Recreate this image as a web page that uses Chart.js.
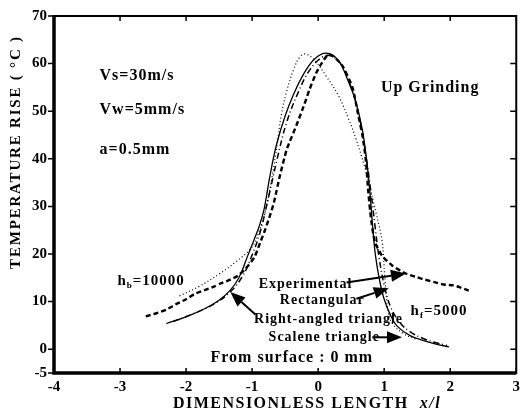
<!DOCTYPE html>
<html>
<head>
<meta charset="utf-8">
<script src="https://cdn.jsdelivr.net/npm/chart.js@4.4.1/dist/chart.umd.min.js"></script>
<style>
  html, body { margin: 0; padding: 0; background: #fff; }
</style>
</head>
<body>
<canvas id="chart" width="525" height="417"></canvas>
<script>
// axis ticks
const xTicks = [-4, -3, -2, -1, 0, 1, 2, 3];
const yTicks = [-5, 0, 10, 20, 30, 40, 50, 60, 70];

// Experimental (measured, bold dashed / dotted)
const expX = [-2.61, -2.46, -2.3, -2.16, -2.0, -1.87, -1.7, -1.57, -1.48, -1.35, -1.22, -1.12, -0.97, -0.88, -0.8, -0.72, -0.67, -0.58, -0.48, -0.43, -0.33, -0.22, -0.13, -0.03, 0.05, 0.16, 0.27, 0.37, 0.52, 0.61, 0.67, 0.72, 0.76, 0.8, 0.86, 0.97, 1.12, 1.31, 1.5, 1.62, 1.76, 1.9, 2.05, 2.15, 2.28];
const expY = [6.9, 7.5, 8.3, 9.4, 10.5, 11.6, 12.5, 13.2, 13.8, 14.5, 15.4, 16.6, 19.2, 22.3, 25.2, 28.5, 30.8, 36.4, 41.8, 43.6, 47, 51, 54.6, 58, 60, 62, 61, 59.5, 55, 49, 45, 40, 33, 27.5, 22.5, 19.6, 17.6, 16.0, 15.1, 14.6, 14.1, 13.6, 13.4, 13.0, 12.3];

// Rectangular heat source (solid)
const rectX = [-2.3, -2.0, -1.72, -1.5, -1.33, -1.2, -1.07, -0.97, -0.9, -0.82, -0.73, -0.63, -0.5, -0.37, -0.22, -0.05, 0.12, 0.3, 0.45, 0.57, 0.67, 0.74, 0.79, 0.83, 0.87, 0.93, 1.0, 1.1, 1.2, 1.4, 1.6, 1.8, 1.98];
const rectY = [5.4, 6.8, 8.5, 10.3, 12.4, 15, 19.5, 23, 25.5, 29.3, 36.4, 43, 49, 53.6, 57.8, 61, 62.2, 60.8, 56.5, 52, 46, 39, 32, 25, 19.5, 14.5, 10.5, 7, 4.8, 2.8, 1.8, 1.0, 0.5];

// Right-angled triangle heat source (fine dotted)
const rightX = [-2.1, -1.8, -1.5, -1.25, -1.0, -0.9, -0.8, -0.7, -0.62, -0.56, -0.48, -0.37, -0.27, -0.18, -0.03, 0.12, 0.31, 0.46, 0.57, 0.7, 0.8, 0.88, 0.97, 1.01, 1.06, 1.12, 1.3, 1.5];
const rightY = [11.2, 13.2, 15.8, 18.3, 21.5, 24.5, 29, 36, 43, 49, 54, 58.8, 61.5, 62, 60.3, 57.4, 53.2, 48.4, 44.3, 38.5, 33, 28.5, 22.5, 15, 8, 5.5, 3.2, 2.0];

// Scalene triangle heat source (dash-dot)
const scalX = [-2.2, -1.9, -1.6, -1.35, -1.15, -1.0, -0.88, -0.75, -0.62, -0.48, -0.3, -0.12, 0.08, 0.2, 0.35, 0.5, 0.62, 0.72, 0.8, 0.86, 0.92, 1.0, 1.1, 1.25, 1.4, 1.6, 1.8, 1.95];
const scalY = [5.8, 7.4, 9.3, 11.8, 15.2, 19.8, 24.5, 32, 40, 47.5, 54, 58.8, 61.5, 61.6, 59.8, 55, 49, 41, 33, 26, 19.5, 13.5, 8.8, 5.4, 3.6, 2.2, 1.3, 0.8];

const SERIF = '"Liberation Serif", "DejaVu Serif", "Times New Roman", serif';

const notes = [
  { text: "Vs=30m/s", x: -3.31, y: 57.5, size: 16 },
  { text: "Vw=5mm/s", x: -3.31, y: 50.2, size: 16 },
  { text: "a=0.5mm", x: -3.31, y: 41.9, size: 16 },
  { text: "Up Grinding", x: 0.95, y: 54.8, size: 16 },
  { text: "Experimental", x: -0.9, y: 13.7, size: 14 },
  { text: "Rectangular", x: -0.58, y: 10.2, size: 14 },
  { text: "Right-angled triangle", x: -0.97, y: 6.3, size: 14 },
  { text: "Scalene triangle", x: -0.75, y: 2.5, size: 14 },
  { text: "From surface : 0 mm", x: -1.63, y: -1.8, size: 16 }
];

const subNotes = [
  { main: "h", sub: "b", rest: "=10000", x: -3.04, y: 14.3 },
  { main: "h", sub: "f", rest: "=5000", x: 1.4, y: 8.1 }
];

const arrows = [
  { x1: 0.43, y1: 14.0, x2: 1.33, y2: 15.9 },
  { x1: 0.58, y1: 10.6, x2: 1.07, y2: 12.8 },
  { x1: 0.82, y1: 2.5, x2: 1.27, y2: 2.5 },
  { x1: -0.95, y1: 7.3, x2: -1.33, y2: 12.0 }
];

function toPoints(xs, ys) {
  return xs.map((x, i) => ({ x: x, y: ys[i] }));
}

function drawArrow(ctx, ax, ay, bx, by) {
  const ang = Math.atan2(by - ay, bx - ax);
  const len = 15, half = 6;
  const baseX = bx - len * Math.cos(ang), baseY = by - len * Math.sin(ang);
  ctx.beginPath();
  ctx.moveTo(ax, ay);
  ctx.lineTo(baseX, baseY);
  ctx.lineWidth = 2;
  ctx.stroke();
  ctx.beginPath();
  ctx.moveTo(bx, by);
  ctx.lineTo(baseX - half * Math.sin(ang), baseY + half * Math.cos(ang));
  ctx.lineTo(baseX + half * Math.sin(ang), baseY - half * Math.cos(ang));
  ctx.closePath();
  ctx.fill();
}

const framePlugin = {
  id: "frame",
  afterDraw(chart) {
    const ctx = chart.ctx;
    const a = chart.chartArea;
    const xs = chart.scales.x, ys = chart.scales.y;
    ctx.save();
    ctx.strokeStyle = "#000";
    ctx.fillStyle = "#000";
    ctx.setLineDash([]);

    // frame
    ctx.lineWidth = 2;
    ctx.strokeRect(a.left, a.top, a.right - a.left, a.bottom - a.top);
    ctx.lineWidth = 3.5;
    ctx.beginPath();
    ctx.moveTo(a.left, a.top - 1);
    ctx.lineTo(a.left, a.bottom);
    ctx.lineTo(a.right, a.bottom);
    ctx.stroke();

    // ticks
    ctx.lineWidth = 1.5;
    ctx.beginPath();
    for (const v of xTicks) {
      const px = xs.getPixelForValue(v);
      ctx.moveTo(px, a.top); ctx.lineTo(px, a.top + 5);
      ctx.moveTo(px, a.bottom); ctx.lineTo(px, a.bottom - 5);
    }
    for (const v of yTicks) {
      const py = ys.getPixelForValue(v);
      ctx.moveTo(a.left - 6, py); ctx.lineTo(a.left, py);
      ctx.moveTo(a.right, py); ctx.lineTo(a.right - 6, py);
    }
    ctx.stroke();

    // texts
    ctx.textBaseline = "middle";
    ctx.textAlign = "left";
    ctx.letterSpacing = "1px";
    for (const n of notes) {
      ctx.font = `bold ${n.size}px ${SERIF}`;
      ctx.fillText(n.text, xs.getPixelForValue(n.x), ys.getPixelForValue(n.y));
    }
    for (const n of subNotes) {
      let px = xs.getPixelForValue(n.x);
      const py = ys.getPixelForValue(n.y);
      ctx.font = `bold 15px ${SERIF}`;
      ctx.fillText(n.main, px, py);
      px += ctx.measureText(n.main).width;
      ctx.font = `bold 9px ${SERIF}`;
      ctx.fillText(n.sub, px, py + 5);
      px += ctx.measureText(n.sub).width;
      ctx.font = `bold 15px ${SERIF}`;
      ctx.fillText(n.rest, px, py);
    }

    for (const r of arrows) {
      drawArrow(ctx, xs.getPixelForValue(r.x1), ys.getPixelForValue(r.y1),
        xs.getPixelForValue(r.x2), ys.getPixelForValue(r.y2));
    }

    // axis titles
    ctx.letterSpacing = "1.5px";
    ctx.font = `bold 16px ${SERIF}`;
    const t1 = "DIMENSIONLESS LENGTH  ";
    const w1 = ctx.measureText(t1).width;
    ctx.font = `italic bold 16px ${SERIF}`;
    const t2 = "x/l";
    const w2 = ctx.measureText(t2).width;
    let sx = 307 - (w1 + w2) / 2;
    ctx.font = `bold 16px ${SERIF}`;
    ctx.fillText(t1, sx, 404);
    ctx.font = `italic bold 16px ${SERIF}`;
    ctx.fillText(t2, sx + w1, 404);

    ctx.translate(16, 152);
    ctx.rotate(-Math.PI / 2);
    ctx.textAlign = "center";
    ctx.letterSpacing = "1.8px";
    ctx.font = `bold 15px ${SERIF}`;
    ctx.fillText("TEMPERATURE RISE ( \u00B0C )", 0, 0);
    ctx.restore();
  }
};

const baseLine = { showLine: true, pointRadius: 0, borderColor: "#000", backgroundColor: "#000", fill: false };

new Chart("chart", {
  type: "scatter",
  data: {
    datasets: [
      Object.assign({ label: "Rectangular", data: toPoints(rectX, rectY), borderWidth: 1.3, tension: 0.4 }, baseLine),
      Object.assign({ label: "Scalene triangle", data: toPoints(scalX, scalY), borderWidth: 1.5, borderDash: [6, 3, 1, 3], tension: 0.4 }, baseLine),
      Object.assign({ label: "Right-angled triangle", data: toPoints(rightX, rightY), borderWidth: 1.2, borderDash: [1, 2.5], tension: 0.4 }, baseLine),
      Object.assign({ label: "Experimental", data: toPoints(expX, expY), borderWidth: 2.4, borderDash: [5, 3], tension: 0.2 }, baseLine)
    ]
  },
  options: {
    responsive: false,
    animation: false,
    events: [],
    layout: { padding: { top: 12, right: 3, left: 0, bottom: 0 } },
    plugins: { legend: { display: false }, tooltip: { enabled: false } },
    scales: {
      x: {
        type: "linear",
        min: -4,
        max: 3,
        afterBuildTicks: s => { s.ticks = xTicks.map(v => ({ value: v })); },
        afterFit: s => { s.height = 44; },
        grid: { display: false, drawTicks: false },
        border: { display: false },
        ticks: { color: "#000", padding: 5, maxRotation: 0, autoSkip: false, font: { family: SERIF, size: 15, weight: "bold" } }
      },
      y: {
        type: "linear",
        min: -5,
        max: 70,
        afterBuildTicks: s => { s.ticks = yTicks.map(v => ({ value: v })); },
        afterFit: s => { s.width = 54; },
        grid: { display: false, drawTicks: false },
        border: { display: false },
        ticks: { color: "#000", padding: 7, autoSkip: false, font: { family: SERIF, size: 15, weight: "bold" } }
      }
    }
  },
  plugins: [framePlugin]
});
</script>
</body>
</html>
